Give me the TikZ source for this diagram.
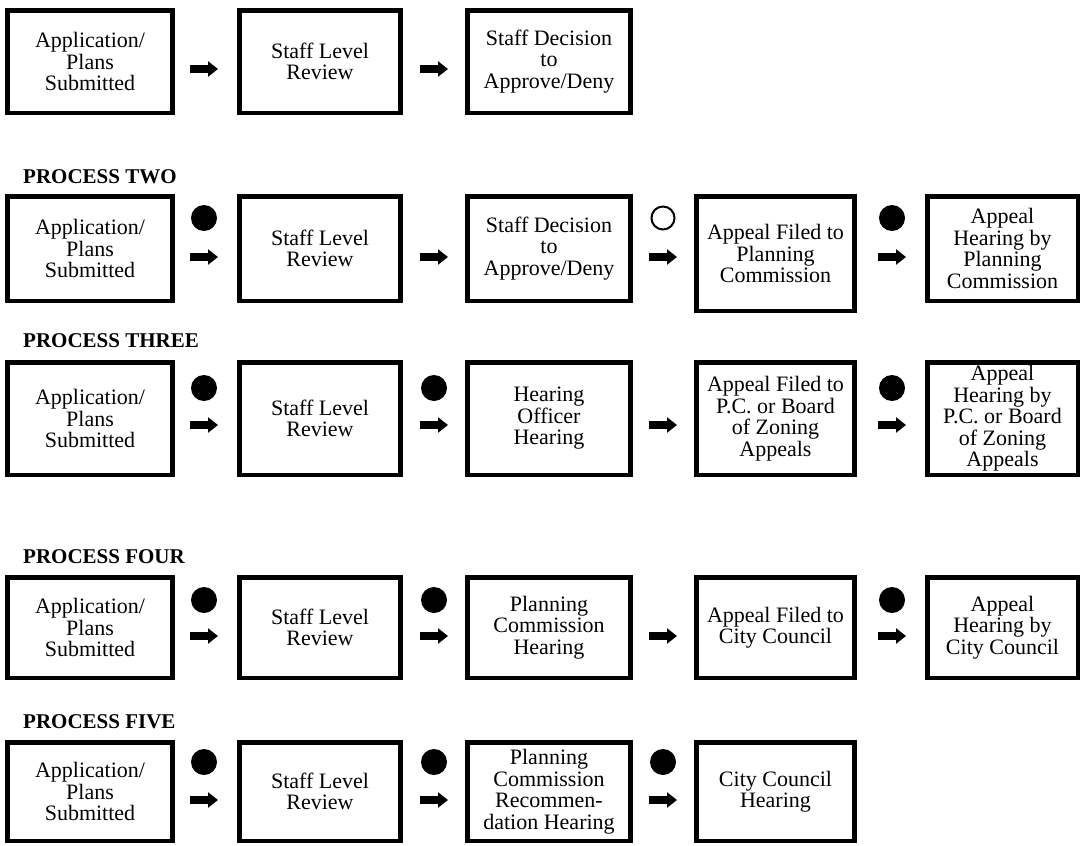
\documentclass[tikz,border=0pt]{standalone}
\usepackage{fontspec}
\setmainfont{Liberation Serif}
\usetikzlibrary{arrows.meta}
\tikzset{
    stage/.style={draw, line width=4.5pt, align=center, inner sep=1pt, minimum height=#1,
        font=\fontsize{22}{21.5}\selectfont},
    fatarrow/.style={line width=8pt, -{Triangle[length=10pt,width=15pt]}},
    holddot/.style={circle, fill, inner sep=0pt, minimum size=26pt},
    opendot/.style={circle, draw, line width=2pt, inner sep=0pt, minimum size=23pt},
    procname/.style={anchor=base west, inner sep=0pt, font=\fontsize{21}{21}\selectfont\bfseries},
}
\begin{document}
\begin{tikzpicture}[x=1pt, y=-1pt]
    \useasboundingbox (0,0) rectangle (1082,846);
    % process one
    \node[stage=102.5pt, minimum width=165pt] (r1c1) at (90, 61.5) {Application/\\Plans\\Submitted};
    \node[stage=102.5pt, minimum width=161pt] (r1c2) at (320, 61.5) {Staff Level\\Review};
    \node[stage=102.5pt, minimum width=163pt] (r1c3) at (549, 61.5) {Staff Decision\\to\\Approve/Deny};
    \foreach \x [count=\i] in {204, 434}{
            \coordinate (r1a\i) at (\x, 69);
            \draw[fatarrow] ([xshift=-14pt]r1a\i) -- ([xshift=14pt]r1a\i);
        }
    % process two
    \node[procname] (p2) at (23, 183) {PROCESS TWO};
    \node[stage=104.5pt, minimum width=165pt] (r2c1) at (90, 248.5) {Application/\\Plans\\Submitted};
    \node[stage=104.5pt, minimum width=161pt] (r2c2) at (320, 248.5) {Staff Level\\Review};
    \node[stage=104.5pt, minimum width=163pt] (r2c3) at (549, 248.5) {Staff Decision\\to\\Approve/Deny};
    \node[stage=114.5pt, minimum width=158pt] (r2c4) at (775.5, 253.5) {Appeal Filed to\\Planning\\Commission};
    \node[stage=104.5pt, minimum width=150.5pt] (r2c5) at (1002.5, 248.5) {Appeal\\Hearing by\\Planning\\Commission};
    \node[holddot] (r2d1) at (204, 218) {};
    \node[opendot] (r2d3) at (663, 218) {};
    \node[holddot] (r2d4) at (892, 218) {};
    \foreach \x [count=\i] in {204, 434, 663, 892}{
            \coordinate (r2a\i) at (\x, 257);
            \draw[fatarrow] ([xshift=-14pt]r2a\i) -- ([xshift=14pt]r2a\i);
        }
    % process three
    \node[procname] (p3) at (23, 347) {PROCESS THREE};
    \node[stage=112.5pt, minimum width=165pt] (r3c1) at (90, 418.5) {Application/\\Plans\\Submitted};
    \node[stage=112.5pt, minimum width=161pt] (r3c2) at (320, 418.5) {Staff Level\\Review};
    \node[stage=112.5pt, minimum width=163pt] (r3c3) at (549, 418.5) {Hearing\\Officer\\Hearing};
    \node[stage=112.5pt, minimum width=158pt] (r3c4) at (775.5, 418.5) {Appeal Filed to\\P.C. or Board\\of Zoning\\Appeals};
    \node[stage=112.5pt, minimum width=150.5pt] (r3c5) at (1002.5, 418.5) {Appeal\\Hearing by\\P.C. or Board\\of Zoning\\Appeals};
    \foreach \x [count=\i] in {204, 434, 892}{
            \node[holddot] (r3d\i) at (\x, 388) {};
        }
    \foreach \x [count=\i] in {204, 434, 663, 892}{
            \coordinate (r3a\i) at (\x, 425);
            \draw[fatarrow] ([xshift=-14pt]r3a\i) -- ([xshift=14pt]r3a\i);
        }
    % process four
    \node[procname] (p4) at (23, 563) {PROCESS FOUR};
    \node[stage=100.5pt, minimum width=165pt] (r4c1) at (90, 627.5) {Application/\\Plans\\Submitted};
    \node[stage=100.5pt, minimum width=161pt] (r4c2) at (320, 627.5) {Staff Level\\Review};
    \node[stage=100.5pt, minimum width=163pt] (r4c3) at (549, 627.5) {Planning\\Commission\\Hearing};
    \node[stage=100.5pt, minimum width=158pt] (r4c4) at (775.5, 627.5) {Appeal Filed to\\City Council};
    \node[stage=100.5pt, minimum width=150.5pt] (r4c5) at (1002.5, 627.5) {Appeal\\Hearing by\\City Council};
    \foreach \x [count=\i] in {204, 434, 892}{
            \node[holddot] (r4d\i) at (\x, 600) {};
        }
    \foreach \x [count=\i] in {204, 434, 663, 892}{
            \coordinate (r4a\i) at (\x, 636);
            \draw[fatarrow] ([xshift=-14pt]r4a\i) -- ([xshift=14pt]r4a\i);
        }
    % process five
    \node[procname] (p5) at (23, 728) {PROCESS FIVE};
    \node[stage=98.5pt, minimum width=165pt] (r5c1) at (90, 791.5) {Application/\\Plans\\Submitted};
    \node[stage=98.5pt, minimum width=161pt] (r5c2) at (320, 791.5) {Staff Level\\Review};
    \node[stage=98.5pt, minimum width=163pt] (r5c3) at (549, 791.5) {Planning\\Commission\\Recommen-\\dation Hearing};
    \node[stage=98.5pt, minimum width=158pt] (r5c4) at (775.5, 791.5) {City Council\\Hearing};
    \foreach \x [count=\i] in {204, 434, 663}{
            \node[holddot] (r5d\i) at (\x, 762) {};
            \coordinate (r5a\i) at (\x, 800);
            \draw[fatarrow] ([xshift=-14pt]r5a\i) -- ([xshift=14pt]r5a\i);
        }
\end{tikzpicture}
\end{document}
